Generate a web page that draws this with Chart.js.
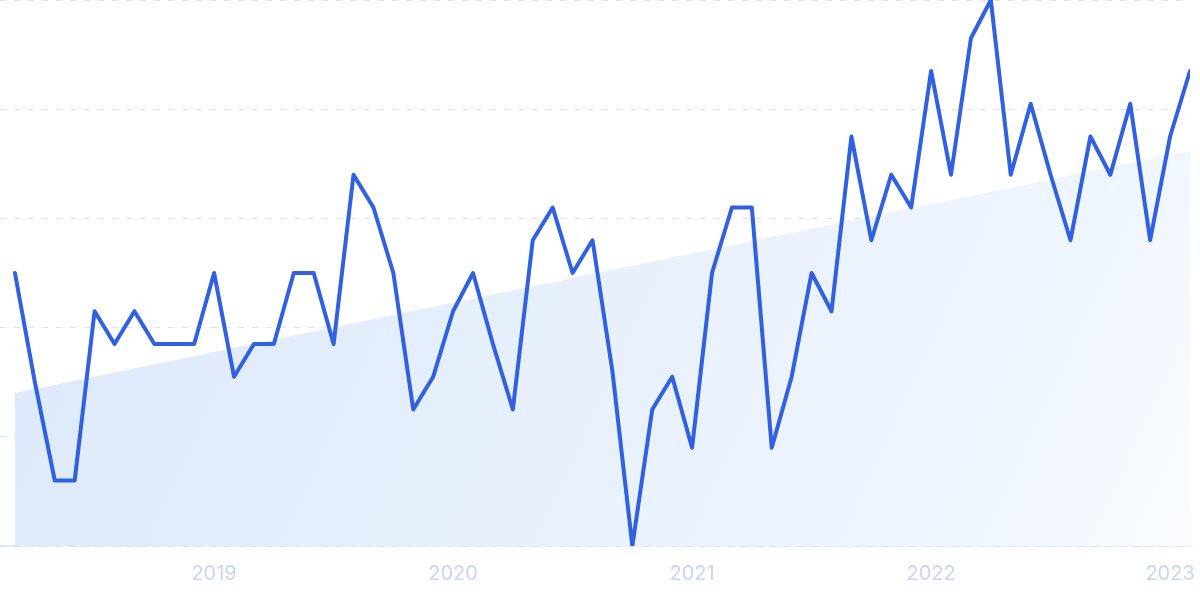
<!DOCTYPE html>
<html>
<head>
    <meta charset='utf-8'>
    <title>Trend chart</title>
    <script src="https://cdn.jsdelivr.net/npm/chart.js@4.4.1/dist/chart.umd.min.js"></script>
    <style>
        html, body { margin: 0; padding: 0; background: #fff; }
        #wrap { width: 1200px; height: 599px; }
    </style>
</head>
<body>
<div id="wrap"><canvas id="trendChart"></canvas></div>
<script>
// monthly data, Mar 2018 - Feb 2023
const months = [
    '2018-03','2018-04','2018-05','2018-06','2018-07','2018-08','2018-09','2018-10','2018-11','2018-12',
    '2019-01','2019-02','2019-03','2019-04','2019-05','2019-06','2019-07','2019-08','2019-09','2019-10','2019-11','2019-12',
    '2020-01','2020-02','2020-03','2020-04','2020-05','2020-06','2020-07','2020-08','2020-09','2020-10','2020-11','2020-12',
    '2021-01','2021-02','2021-03','2021-04','2021-05','2021-06','2021-07','2021-08','2021-09','2021-10','2021-11','2021-12',
    '2022-01','2022-02','2022-03','2022-04','2022-05','2022-06','2022-07','2022-08','2022-09','2022-10','2022-11','2022-12',
    '2023-01','2023-02'
]
const values = [
    50, 30, 12, 12, 43, 37, 43, 37, 37, 37,
    50, 31, 37, 37, 50, 50, 37, 68, 62, 50, 25, 31,
    43, 50, 37, 25, 56, 62, 50, 56, 32, 0, 25, 31,
    18, 50, 62, 62, 18, 31, 50, 43, 75, 56, 68, 62,
    87, 68, 93, 100, 68, 81, 68, 56, 75, 68, 81, 56,
    75, 87
]
const yearLabels = ['2019', '2020', '2021', '2022', '2023']
// trend line start / end values
const trendStart = 28
const trendEnd = 72.4

const linePoints = values.map((v, i) => ({ x: i, y: v }))
const trendPoints = [
    { x: 0, y: trendStart },
    { x: months.length - 1, y: trendEnd }
]

function trendFill(context) {
    const chart = context.chart
    const area = chart.chartArea
    if (!area) return 'rgba(222,235,250,0.9)'
    const g = chart.ctx.createLinearGradient(area.left, area.top, area.right, area.bottom)
    g.addColorStop(0, '#dae7fa')
    g.addColorStop(0.4, '#e5eefc')
    g.addColorStop(0.85, '#f0f6fe')
    g.addColorStop(1, '#fafcff')
    return g
}

new Chart(document.getElementById('trendChart'), {
    type: 'line',
    data: {
        datasets: [{
            label: 'Searches',
            data: linePoints,
            borderColor: '#2f61e0',
            borderWidth: 4,
            pointRadius: 0,
            tension: 0,
            borderJoinStyle: 'round',
            borderCapStyle: 'round',
            fill: false,
            order: 0
        }, {
            label: 'Trend',
            data: trendPoints,
            borderWidth: 0,
            borderColor: 'rgba(0,0,0,0)',
            backgroundColor: trendFill,
            pointRadius: 0,
            fill: 'origin',
            order: 1
        }]
    },
    options: {
        responsive: true,
        maintainAspectRatio: false,
        animation: false,
        layout: { padding: { left: 0, right: 10, top: 0, bottom: -3 } },
        plugins: {
            legend: { display: false },
            tooltip: { enabled: false }
        },
        scales: {
            x: {
                type: 'linear',
                min: -0.75,
                max: months.length - 1,
                grid: { display: false, drawTicks: false },
                border: { display: true, color: '#d6e3f8', width: 1.5 },
                afterBuildTicks: scale => {
                    scale.ticks = yearLabels.map(y => ({ value: months.indexOf(y + '-01') }))
                },
                // last label may overhang the edge, like the original
                afterFit: scale => {
                    scale.paddingRight = 0
                    scale.paddingLeft = 0
                },
                ticks: {
                    autoSkip: false,
                    maxRotation: 0,
                    padding: 18,
                    color: '#c9d5f5',
                    font: { family: 'Inter', size: 20, lineHeight: 1 },
                    callback: value => months[value].slice(0, 4)
                }
            },
            y: {
                min: 0,
                max: 100,
                ticks: { display: false, stepSize: 20 },
                grid: { color: '#d9e4fb', lineWidth: 1, drawTicks: false },
                border: { display: false, dash: [6, 8] }
            }
        }
    }
})
</script>
</body>
</html>
